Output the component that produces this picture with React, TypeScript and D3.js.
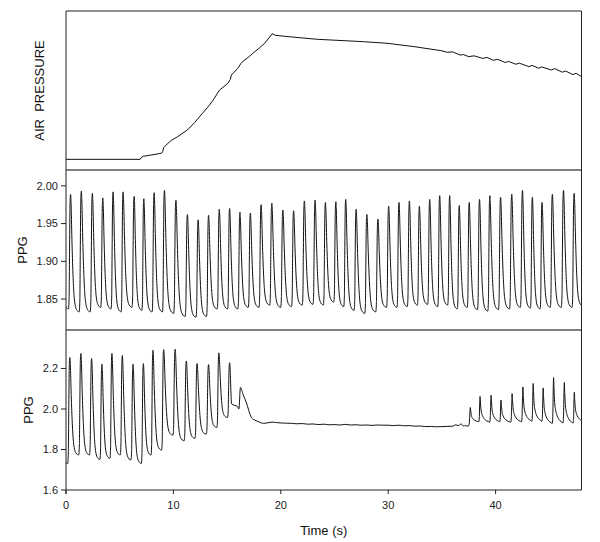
import React from "react";
import * as d3 from "d3";

// ---------- DATA ----------
// Air pressure (arbitrary units 0-100)
const AIR_T = [0, 6.9, 7.0, 7.2, 8.0, 8.9, 9.0, 9.1, 9.5, 9.8, 10.4, 11.3, 12.0, 12.7, 13.2, 13.6, 13.8, 14.3, 14.8, 15.1, 15.3, 15.4, 16.0, 16.3, 16.5, 17.0, 17.4, 18.0, 18.5, 19.2, 19.5, 20.5, 23.4, 27.7, 29.9, 32.4, 34.5, 35.0, 35.5, 36.0, 36.7, 37.0, 37.5, 38.0, 38.8, 39.2, 39.8, 40.2, 40.9, 41.2, 41.9, 42.2, 43.1, 43.4, 44.0, 44.3, 45.2, 45.5, 46.2, 46.5, 47.2, 47.5, 48.0];
const AIR_V = [6.7, 6.7, 7.8, 8.6, 9.5, 10.6, 11.5, 14.2, 16.8, 18.6, 21.0, 25.2, 30.0, 35.6, 39.5, 43.0, 45.0, 50.3, 53.0, 54.8, 57.0, 59.7, 64.0, 67.1, 68.5, 71.0, 73.4, 76.7, 79.7, 85.7, 84.7, 84.0, 82.2, 80.7, 79.7, 77.6, 75.5, 75.0, 74.0, 74.3, 72.3, 72.6, 71.3, 71.8, 70.2, 70.8, 69.0, 69.6, 67.6, 68.3, 66.5, 67.2, 65.0, 65.8, 64.0, 64.8, 62.9, 63.8, 61.5, 62.3, 60.0, 60.8, 58.7];

// PPG 1 (middle panel): beat peak times, peak values, trough values (trough before each peak + trough after last)
const PPG1_PEAK_T = [0.43, 1.43, 2.46, 3.43, 4.39, 5.32, 6.35, 7.25, 8.21, 9.17, 10.24, 11.31, 12.31, 13.28, 14.28, 15.24, 16.2, 17.17, 18.17, 19.17, 20.2, 21.2, 22.2, 23.2, 24.16, 25.13, 26.05, 27.02, 28.02, 29.05, 30.05, 31.01, 31.98, 32.91, 33.87, 34.8, 35.73, 36.62, 37.55, 38.51, 39.47, 40.47, 41.51, 42.51, 43.43, 44.33, 45.29, 46.33, 47.32];
const PPG1_PEAK_V = [1.9885, 1.993, 1.99, 1.984, 1.992, 1.992, 1.986, 1.983, 1.991, 1.994, 1.981, 1.962, 1.955, 1.961, 1.969, 1.97, 1.965, 1.964, 1.975, 1.977, 1.968, 1.967, 1.98, 1.981, 1.978, 1.979, 1.982, 1.969, 1.962, 1.956, 1.973, 1.978, 1.98, 1.973, 1.982, 1.987, 1.987, 1.974, 1.978, 1.982, 1.987, 1.985, 1.989, 1.994, 1.985, 1.978, 1.989, 1.994, 1.99];
const PPG1_TROUGH_V = [1.837, 1.833, 1.833, 1.839, 1.837, 1.833, 1.839, 1.835, 1.833, 1.833, 1.831, 1.827, 1.826, 1.827, 1.837, 1.837, 1.837, 1.839, 1.839, 1.842, 1.839, 1.84, 1.842, 1.843, 1.842, 1.846, 1.84, 1.835, 1.831, 1.833, 1.839, 1.839, 1.84, 1.842, 1.843, 1.84, 1.842, 1.837, 1.839, 1.836, 1.834, 1.836, 1.837, 1.839, 1.838, 1.837, 1.839, 1.839, 1.839, 1.841];

// PPG 2 (bottom panel), early beats
const PPG2A_PEAK_T = [0.36, 1.39, 2.39, 3.35, 4.28, 5.25, 6.25, 7.21, 8.1, 9.1, 10.17, 11.21, 12.21, 13.28, 14.24, 15.24];
const PPG2A_PEAK_V = [2.254, 2.274, 2.249, 2.221, 2.274, 2.264, 2.221, 2.224, 2.29, 2.293, 2.295, 2.237, 2.224, 2.219, 2.277, 2.228];
const PPG2A_TROUGH_V = [1.731, 1.773, 1.773, 1.751, 1.756, 1.773, 1.748, 1.731, 1.773, 1.797, 1.871, 1.843, 1.855, 1.876, 1.909, 1.958, 2.02];
// PPG 2 middle (cuff occlusion) segment
const PPG2M_T = [15.42, 15.7, 15.95, 16.1, 16.24, 16.5, 16.8, 17.1, 17.3, 17.6, 18.0, 18.4, 18.8, 19.2, 19.6, 20.0, 20.5, 21.0, 21.5, 22.0, 22.5, 23.0, 23.5, 24.0, 24.5, 25.0, 25.5, 26.0, 26.5, 27.0, 27.5, 28.0, 28.5, 29.0, 29.5, 30.0, 30.5, 31.0, 31.5, 32.0, 32.5, 33.0, 33.5, 34.0, 34.5, 35.0, 35.5, 36.0, 36.3, 36.5, 36.8, 37.0, 37.2, 37.45, 37.55];
const PPG2M_V = [2.025, 2.018, 2.014, 2.0, 2.106, 2.07, 2.03, 1.98, 1.955, 1.945, 1.935, 1.929, 1.932, 1.935, 1.933, 1.931, 1.93, 1.929, 1.927, 1.928, 1.925, 1.926, 1.923, 1.925, 1.922, 1.923, 1.921, 1.924, 1.921, 1.922, 1.92, 1.921, 1.919, 1.921, 1.92, 1.92, 1.918, 1.92, 1.917, 1.918, 1.915, 1.916, 1.913, 1.914, 1.912, 1.913, 1.914, 1.915, 1.922, 1.918, 1.926, 1.916, 1.918, 1.915, 1.93];
// PPG 2 late beats (after cuff release)
const PPG2B_PEAK_T = [37.65, 38.55, 39.58, 40.5, 41.54, 42.54, 43.5, 44.43, 45.4, 46.4, 47.33];
const PPG2B_PEAK_V = [2.007, 2.062, 2.068, 2.044, 2.076, 2.109, 2.126, 2.104, 2.155, 2.131, 2.083];
const PPG2B_TROUGH_V = [1.915, 1.937, 1.935, 1.937, 1.935, 1.937, 1.94, 1.94, 1.929, 1.931, 1.931, 1.94];

// tick labels
const X_TICKS = [0, 10, 20, 30, 40];
const PPG1_TICKS = [1.85, 1.9, 1.95, 2.0];
const PPG2_TICKS = [1.6, 1.8, 2.0, 2.2];

// pulse waveform templates (phase from one peak to the next, normalized amplitude)
const SHAPE_A: [number, number][] = [[0, 1], [0.04, 0.93], [0.12, 0.62], [0.22, 0.32], [0.32, 0.14], [0.42, 0.06], [0.55, 0.02], [0.68, 0.005], [0.8, 0], [0.86, 0.1], [0.9, 0.5], [0.94, 0.88], [0.97, 0.98], [1, 1]];
const SHAPE_A_TROUGH = 0.8;
const SHAPE_B: [number, number][] = [[0, 1], [0.04, 0.75], [0.1, 0.45], [0.18, 0.3], [0.3, 0.18], [0.45, 0.1], [0.6, 0.05], [0.75, 0.02], [0.88, 0], [0.93, 0.2], [0.97, 0.75], [1, 1]];
const SHAPE_B_TROUGH = 0.88;

function beatPoints(times: number[], peaks: number[], troughs: number[], shape: [number, number][], tu: number, lead: boolean, tail: boolean): [number, number][] {
  const n = times.length;
  const Tx = [times[0] - (times[1] - times[0]), ...times, times[n - 1] + (times[n - 1] - times[n - 2])];
  const Px = [peaks[0], ...peaks, peaks[n - 1]];
  const pts: [number, number][] = [];
  const j0 = lead ? 0 : 1;
  const j1 = tail ? n : n - 1;
  for (let j = j0; j <= j1; j++) {
    const tr = troughs[j];
    shape.forEach(([u, s], k) => {
      if (k === 0 && j !== j0) return;
      const t = Tx[j] + u * (Tx[j + 1] - Tx[j]);
      const ref = u <= tu ? Px[j] : Px[j + 1];
      pts.push([t, tr + (ref - tr) * s]);
    });
  }
  return pts;
}

// ---------- LAYOUT ----------
const L = 66, R = 581.5;
const P1 = [11, 170], P2 = [170, 330], P3 = [330, 490];
const FONT = "'Liberation Sans', Arial, Helvetica, sans-serif";

export default function App() {
  const x = d3.scaleLinear().domain([0, 48]).range([L, R]);
  const yAir = d3.scaleLinear().domain([0, 100]).range([P1[1], P1[0]]);
  const y1 = d3.scaleLinear().domain([1.809, 2.021]).range([P2[1], P2[0]]);
  const y2 = d3.scaleLinear().domain([1.6, 2.39]).range([P3[1], P3[0]]);

  const air: [number, number][] = AIR_T.map((t, i) => [t, AIR_V[i]]);
  const ppg1 = beatPoints(PPG1_PEAK_T, PPG1_PEAK_V, PPG1_TROUGH_V, SHAPE_A, SHAPE_A_TROUGH, true, true);
  const ppg2a = beatPoints(PPG2A_PEAK_T, PPG2A_PEAK_V, PPG2A_TROUGH_V, SHAPE_A, SHAPE_A_TROUGH, true, false);
  const ppg2m: [number, number][] = PPG2M_T.map((t, i) => [t, PPG2M_V[i]]);
  const ppg2b = beatPoints(PPG2B_PEAK_T, PPG2B_PEAK_V, PPG2B_TROUGH_V, SHAPE_B, SHAPE_B_TROUGH, false, true);
  const ppg2 = [...ppg2a, ...ppg2m, ...ppg2b];

  const lineAir = d3.line<[number, number]>().x(d => x(d[0])).y(d => yAir(d[1]));
  const line1 = d3.line<[number, number]>().x(d => x(d[0])).y(d => y1(d[1])).curve(d3.curveMonotoneX);
  const line2 = d3.line<[number, number]>().x(d => x(d[0])).y(d => y2(d[1])).curve(d3.curveMonotoneX);

  return (
    <svg width={600} height={542} style={{ position: "absolute", left: 0, top: 0, background: "#fff" }} fontFamily={FONT}>
      <defs>
        <clipPath id="c1"><rect x={L} y={P1[0]} width={R - L} height={P1[1] - P1[0]} /></clipPath>
        <clipPath id="c2"><rect x={L} y={P2[0]} width={R - L} height={P2[1] - P2[0]} /></clipPath>
        <clipPath id="c3"><rect x={L} y={P3[0]} width={R - L} height={P3[1] - P3[0]} /></clipPath>
      </defs>
      <rect x={0} y={0} width={600} height={542} fill="#fff" />

      {/* traces */}
      <path d={lineAir(air) || ""} fill="none" stroke="#111" strokeWidth={1} clipPath="url(#c1)" />
      <path d={line1(ppg1) || ""} fill="none" stroke="#111" strokeWidth={1} clipPath="url(#c2)" />
      <path d={line2(ppg2) || ""} fill="none" stroke="#111" strokeWidth={1} clipPath="url(#c3)" />

      {/* frames */}
      <line x1={L} x2={R} y1={P1[0]} y2={P1[0]} stroke="#222" strokeWidth={1} />
      <line x1={L} x2={R} y1={P1[1]} y2={P1[1]} stroke="#555" strokeWidth={1.3} />
      <line x1={L} x2={R} y1={P2[1]} y2={P2[1]} stroke="#555" strokeWidth={1.3} />
      <line x1={L} x2={R} y1={P3[1]} y2={P3[1]} stroke="#222" strokeWidth={1} />
      <line x1={L} x2={L} y1={P1[0]} y2={P3[1] + 4} stroke="#222" strokeWidth={1} />
      <line x1={R} x2={R} y1={P1[0]} y2={P3[1]} stroke="#222" strokeWidth={1} />

      {/* PPG1 y axis */}
      {PPG1_TICKS.map(v => (
        <g key={"a" + v}>
          <line x1={L - 5} x2={L} y1={y1(v)} y2={y1(v)} stroke="#222" />
          <text x={L - 8} y={y1(v)} dy="0.35em" textAnchor="end" fontSize={11} fill="#222">{v.toFixed(2)}</text>
        </g>
      ))}
      {/* PPG2 y axis */}
      {PPG2_TICKS.map(v => (
        <g key={"b" + v}>
          <line x1={L - 5} x2={L} y1={y2(v)} y2={y2(v)} stroke="#222" />
          <text x={L - 8} y={y2(v)} dy="0.35em" textAnchor="end" fontSize={11} fill="#222">{v.toFixed(1)}</text>
        </g>
      ))}
      {/* x axis */}
      {X_TICKS.map(v => (
        <g key={"x" + v}>
          <line x1={x(v)} x2={x(v)} y1={P3[1]} y2={P3[1] + 4} stroke="#222" />
          <text x={x(v)} y={P3[1] + 19} textAnchor="middle" fontSize={11} fill="#222">{v}</text>
        </g>
      ))}

      {/* axis titles */}
      <text transform={`translate(44,${(P1[0] + P1[1]) / 2}) rotate(-90)`} textAnchor="middle" fontSize={13} fill="#111" style={{ whiteSpace: "pre" }}>{"AIR  PRESSURE"}</text>
      <text transform={`translate(27,${(P2[0] + P2[1]) / 2}) rotate(-90)`} textAnchor="middle" fontSize={13} fill="#111">PPG</text>
      <text transform={`translate(33,${(P3[0] + P3[1]) / 2}) rotate(-90)`} textAnchor="middle" fontSize={13} fill="#111">PPG</text>
      <text x={(L + R) / 2} y={535} textAnchor="middle" fontSize={13} fill="#111">Time (s)</text>
    </svg>
  );
}
